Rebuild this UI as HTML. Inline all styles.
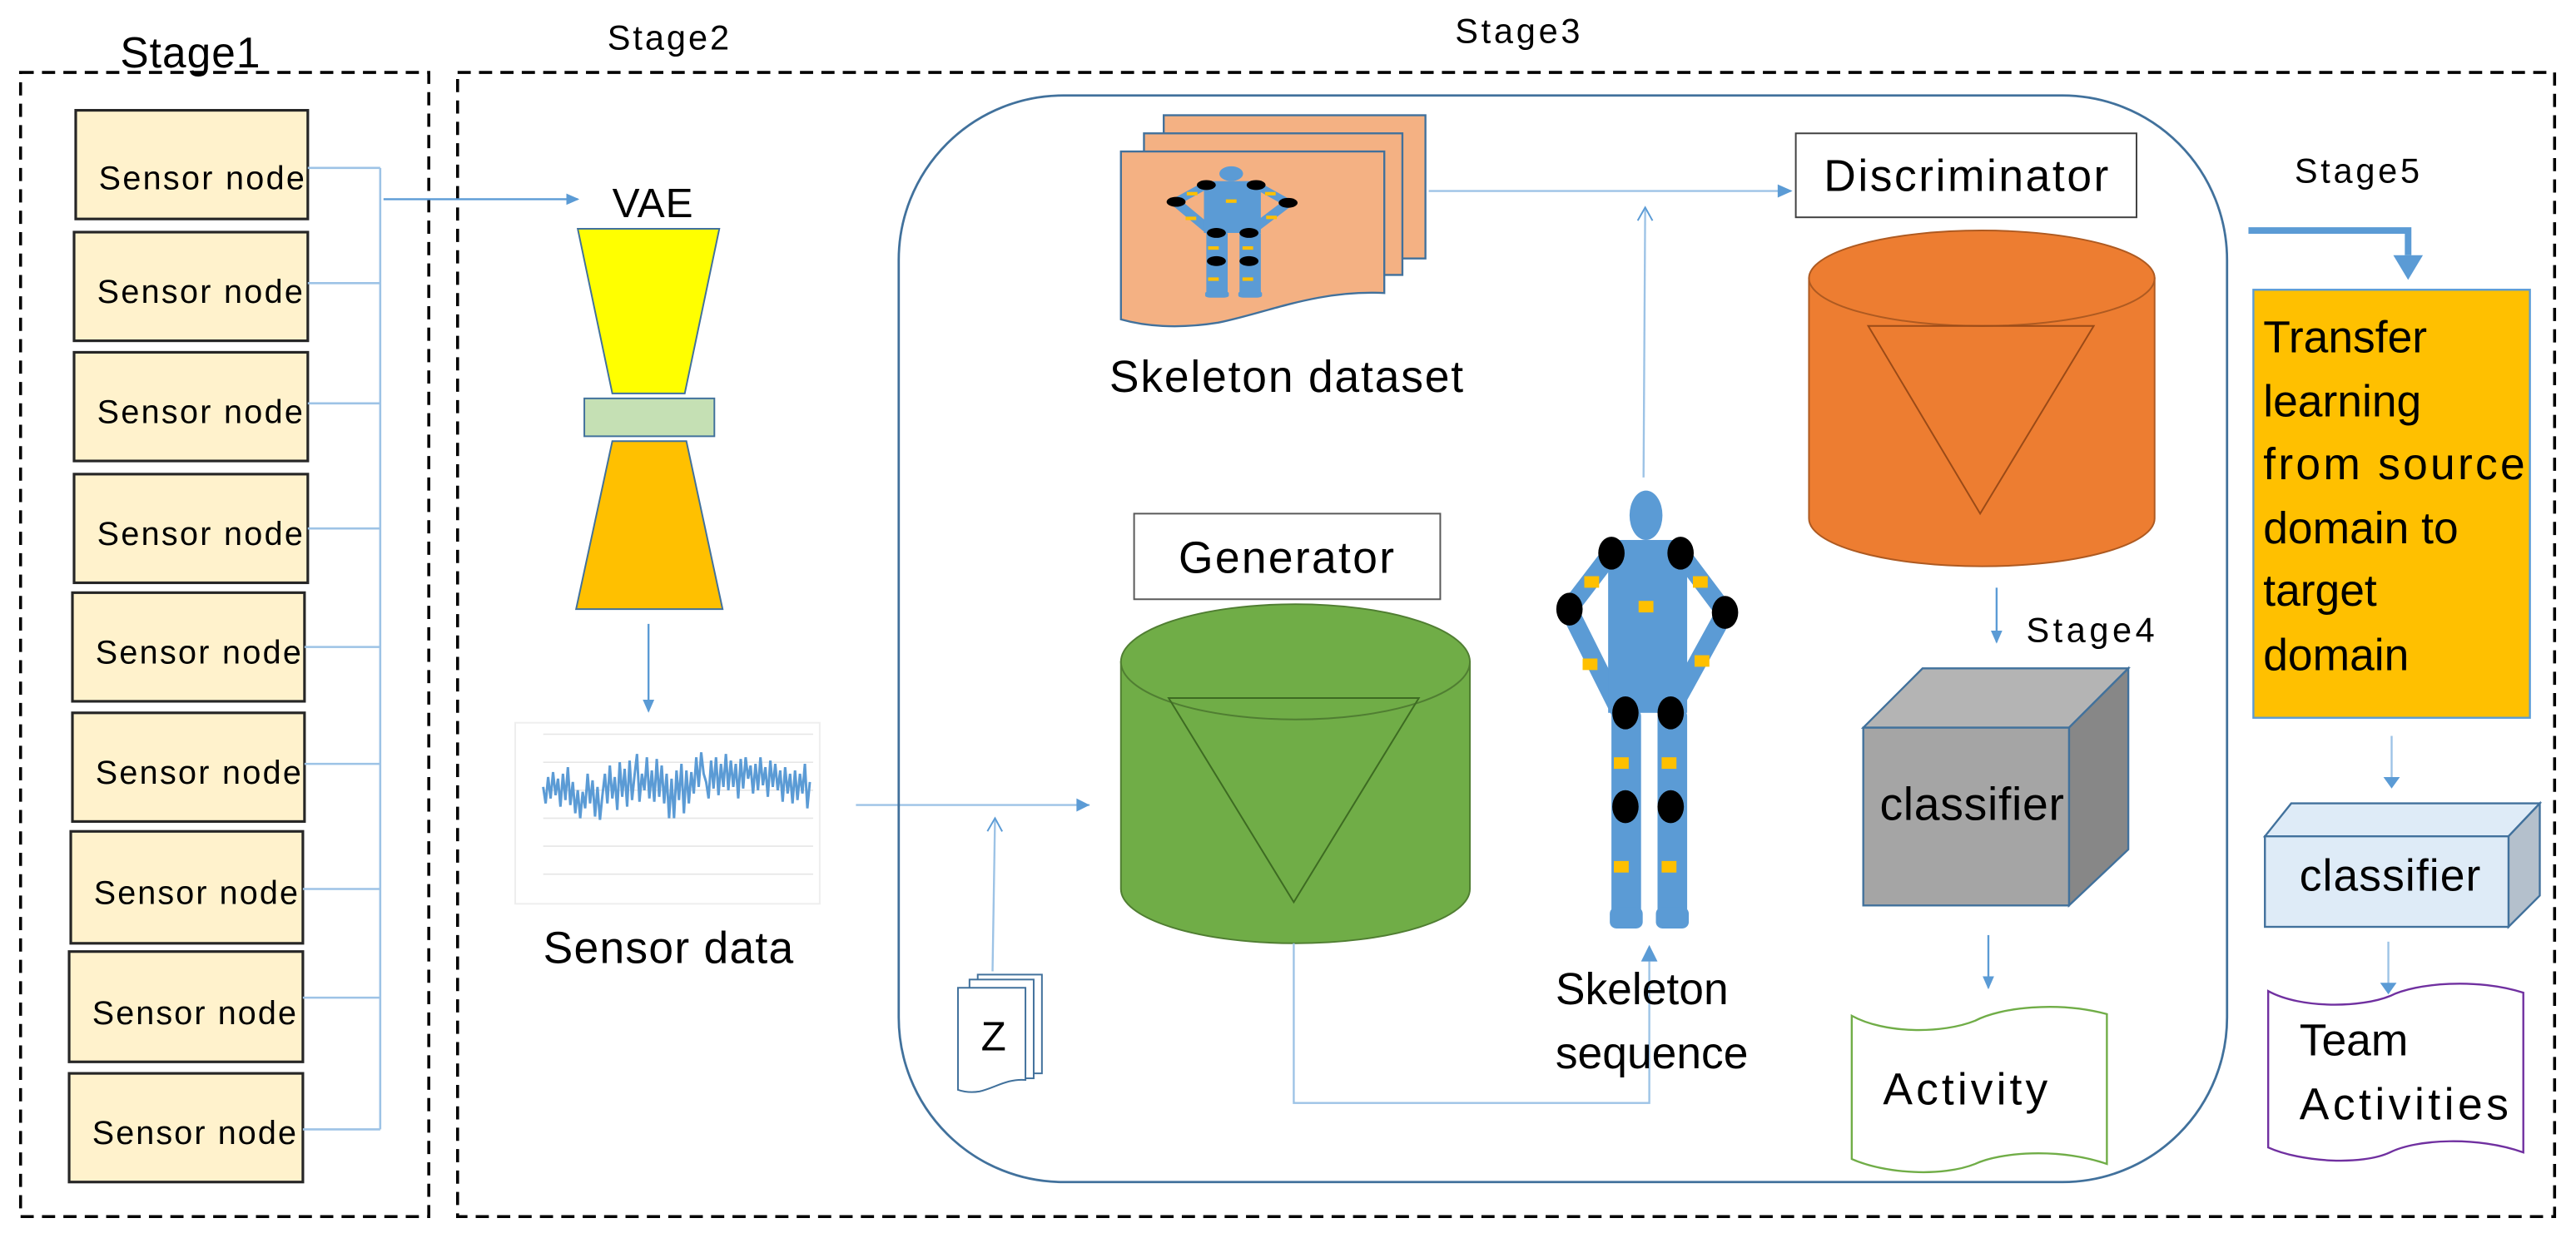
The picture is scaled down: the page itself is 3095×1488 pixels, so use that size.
<!DOCTYPE html>
<html><head><meta charset="utf-8"><style>
html,body{margin:0;padding:0;background:#fff}
svg{display:block}
text{font-family:"Liberation Sans",sans-serif;fill:#000}
</style></head><body>
<svg width="3095" height="1488" viewBox="0 0 1565 752" preserveAspectRatio="none" xmlns="http://www.w3.org/2000/svg">
<defs>
<marker id="ah" markerWidth="8" markerHeight="8" refX="7" refY="4" orient="auto" markerUnits="userSpaceOnUse"><path d="M0,0.5 L8,4 L0,7.5 z" fill="#5B9BD5"/></marker>
<marker id="ao" markerWidth="10" markerHeight="10" refX="9" refY="5" orient="auto" markerUnits="userSpaceOnUse"><path d="M1,0.5 L9,5 L1,9.5" fill="none" stroke="#5B9BD5" stroke-width="1"/></marker>
<g id="fig">
  <g stroke="#5B9BD5" stroke-width="11" stroke-linecap="round" fill="none">
    <polyline points="979,336 953,370 984,432"/>
    <polyline points="1021,336 1048,372 1015,432"/>
  </g>
  <ellipse cx="1000" cy="313" rx="10" ry="15" fill="#5B9BD5"/>
  <rect x="977" y="328" width="48" height="105" fill="#5B9BD5"/>
  <rect x="979" y="430" width="18" height="128" rx="5" fill="#5B9BD5"/>
  <rect x="1007" y="430" width="18" height="128" rx="5" fill="#5B9BD5"/>
  <rect x="978" y="551" width="20" height="13" rx="4" fill="#5B9BD5"/>
  <rect x="1006" y="551" width="20" height="13" rx="4" fill="#5B9BD5"/>
  <g fill="#000">
    <ellipse cx="979" cy="336" rx="8" ry="10"/><ellipse cx="1021" cy="336" rx="8" ry="10"/>
    <ellipse cx="953.5" cy="370" rx="8" ry="10"/><ellipse cx="1048" cy="372" rx="8" ry="10"/>
    <ellipse cx="987.5" cy="433" rx="8" ry="10"/><ellipse cx="1015" cy="433" rx="8" ry="10"/>
    <ellipse cx="987.5" cy="490" rx="8" ry="10"/><ellipse cx="1015" cy="490" rx="8" ry="10"/>
  </g>
  <g fill="#FFC000">
    <rect x="962.5" y="350" width="9" height="7"/><rect x="1028.5" y="350" width="9" height="7"/>
    <rect x="995.5" y="365" width="9" height="7"/>
    <rect x="961.5" y="400" width="9" height="7"/><rect x="1029.5" y="398" width="9" height="7"/>
    <rect x="980.5" y="460" width="9" height="7"/><rect x="1009.5" y="460" width="9" height="7"/>
    <rect x="980.5" y="523" width="9" height="7"/><rect x="1009.5" y="523" width="9" height="7"/>
  </g>
</g>
</defs>

<rect x="12.5" y="44" width="248" height="695" fill="none" stroke="#000" stroke-width="1.8" stroke-dasharray="8,5"/>
<rect x="278" y="44" width="1274" height="695" fill="none" stroke="#000" stroke-width="1.8" stroke-dasharray="8,5"/>
<text x="73" y="41" font-size="26" textLength="85">Stage1</text>
<text x="369" y="30" font-size="21" textLength="74">Stage2</text>
<text x="884" y="26" font-size="21" textLength="76">Stage3</text>

<g fill="#FFF2CC" stroke="#262626" stroke-width="1.6">
<rect x="46" y="67" width="141" height="66"/>
<rect x="45" y="141" width="142" height="66"/>
<rect x="45" y="214" width="142" height="66"/>
<rect x="45" y="288" width="142" height="66"/>
<rect x="44" y="360" width="141" height="66"/>
<rect x="44" y="433" width="141" height="66"/>
<rect x="43" y="505" width="141" height="68"/>
<rect x="42" y="578" width="142" height="67"/>
<rect x="42" y="652" width="142" height="66"/>
</g>
<g font-size="20">
<text x="60" y="115" textLength="125">Sensor node</text>
<text x="59" y="184" textLength="125">Sensor node</text>
<text x="59" y="257" textLength="125">Sensor node</text>
<text x="59" y="331" textLength="125">Sensor node</text>
<text x="58" y="403" textLength="125">Sensor node</text>
<text x="58" y="476" textLength="125">Sensor node</text>
<text x="57" y="549" textLength="124">Sensor node</text>
<text x="56" y="622" textLength="124">Sensor node</text>
<text x="56" y="695" textLength="124">Sensor node</text>
</g>
<g stroke="#9DC3E6" stroke-width="1.3" fill="none">
<line x1="231" y1="102" x2="231" y2="686"/>
<line x1="187" y1="102" x2="231" y2="102"/>
<line x1="187" y1="172" x2="231" y2="172"/>
<line x1="187" y1="245" x2="231" y2="245"/>
<line x1="187" y1="321" x2="231" y2="321"/>
<line x1="185" y1="393" x2="231" y2="393"/>
<line x1="185" y1="464" x2="231" y2="464"/>
<line x1="184" y1="540" x2="231" y2="540"/>
<line x1="184" y1="606" x2="231" y2="606"/>
<line x1="184" y1="686" x2="231" y2="686"/>
</g>
<line x1="233" y1="121" x2="351" y2="121" stroke="#5B9BD5" stroke-width="1.2" marker-end="url(#ah)"/>

<text x="372" y="132" font-size="25" textLength="49">VAE</text>
<polygon points="351,139 437,139 416,239 372,239" fill="#FFFF00" stroke="#41719C" stroke-width="1"/>
<rect x="355" y="242" width="79" height="23" fill="#C5E0B4" stroke="#41719C" stroke-width="1"/>
<polygon points="372,268 417,268 439,370 350,370" fill="#FFC000" stroke="#41719C" stroke-width="1"/>
<line x1="394" y1="379" x2="394" y2="432" stroke="#5B9BD5" stroke-width="1.2" marker-end="url(#ah)"/>

<rect x="313" y="439" width="185" height="110" fill="#fff" stroke="#eee" stroke-width="1"/>
<g stroke="#e6e6e6" stroke-width="0.8">
<line x1="330" y1="446" x2="494" y2="446"/><line x1="330" y1="463" x2="494" y2="463"/>
<line x1="330" y1="480" x2="494" y2="480"/><line x1="330" y1="497" x2="494" y2="497"/>
<line x1="330" y1="514" x2="494" y2="514"/><line x1="330" y1="531" x2="494" y2="531"/>
</g>
<polyline fill="none" stroke="#5B9BD5" stroke-width="1.5" points="330,478 331.5,488 333,472 334.5,485 336,469 337.5,483 339,473 340.5,490 342,470 343.5,486 345,466 346.5,489 348,475 349.5,494 351,480 352.5,497 354,481 355.5,491 357,470 358.5,488 360,474 361.5,496 363,478 364.5,498 366,483 367.5,470 369,488 370.5,465 372,485 373.5,472 375,492 376.5,463 378,484 379.5,467 381,490 382.5,462 384,486 385.5,471 387,458 388.5,487 390,470 391.5,480 393,460 394.5,485 396,468 397.5,487 399,461 400.5,484 402,465 403.5,488 405,470 406.5,497 408,473 409.5,497 411,468 412.5,486 414,464 415.5,494 417,468 418.5,488 420,469 421.5,482 423,460 424.5,478 426,457 427.5,470 429,475 430.5,485 432,462 433.5,479 435,460 436.5,483 438,464 439.5,478 441,458 442.5,480 444,462 445.5,478 447,464 448.5,485 450,461 451.5,479 453,460 454.5,473 456,465 457.5,482 459,464 460.5,480 462,460 463.5,477 465,466 466.5,484 468,462 469.5,478 471,464 472.5,480 474,468 475.5,487 477,466 478.5,482 480,470 481.5,488 483,468 484.5,486 486,470 487.5,482 489,464 490.5,491 492,475"/>
<text x="330" y="585" font-size="27" textLength="152">Sensor data</text>
<line x1="520" y1="489" x2="662" y2="489" stroke="#9DC3E6" stroke-width="1.2"/>
<path d="M654,485 L662,489 L654,493 z" fill="#5B9BD5"/>

<rect x="546" y="58" width="807" height="660" rx="100" ry="100" fill="none" stroke="#41719C" stroke-width="1.4"/>

<g stroke="#41719C" stroke-width="1.2" fill="#F4B183">
<rect x="707" y="70" width="159" height="87"/>
<rect x="695" y="81" width="157" height="86"/>
<path d="M681,92 L841,92 L841,178 C800,176 770,190 740,196 C715,200 695,198 681,194 z"/>
</g>
<use href="#fig" transform="translate(748,101) scale(0.72,0.3) translate(-1000,-298)"/>
<text x="674" y="238" font-size="27" textLength="215">Skeleton dataset</text>
<line x1="868" y1="116" x2="1088" y2="116" stroke="#9DC3E6" stroke-width="1.2"/>
<path d="M1080,112 L1089,116 L1080,120 z" fill="#5B9BD5"/>
<line x1="998.5" y1="290" x2="999.5" y2="126" stroke="#9DC3E6" stroke-width="1.2" marker-end="url(#ao)"/>

<rect x="689" y="312" width="186" height="52" fill="#fff" stroke="#595959" stroke-width="1"/>
<text x="716" y="348" font-size="27" textLength="131">Generator</text>
<path d="M681,402 L681,540 A106,33 0 0 0 893,540 L893,402 z" fill="#70AD47" stroke="#507E32" stroke-width="1"/>
<ellipse cx="787" cy="402" rx="106" ry="35" fill="#70AD47" stroke="#507E32" stroke-width="1"/>
<polygon points="710,424 862,424 786,548" fill="none" stroke="#3d6b22" stroke-width="1"/>

<g stroke="#41719C" stroke-width="1" fill="#fff">
<rect x="594" y="592" width="39" height="60"/>
<rect x="589" y="595" width="39" height="60"/>
<path d="M582,600 L623,600 L623,656 C612,655 604,661 595,663 C589,664 585,663 582,662 z"/>
</g>
<text x="596" y="638" font-size="25">Z</text>
<line x1="603" y1="590" x2="604.5" y2="497" stroke="#9DC3E6" stroke-width="1.2" marker-end="url(#ao)"/>

<polyline points="786,573 786,670 1002,670 1002,584" fill="none" stroke="#9DC3E6" stroke-width="1.2"/>
<path d="M997,584 L1002,574 L1007,584 z" fill="#5B9BD5"/>

<use href="#fig"/>
<text x="945" y="610" font-size="27">Skeleton</text>
<text x="945" y="649" font-size="27">sequence</text>

<rect x="1091" y="81" width="207" height="51" fill="#fff" stroke="#404040" stroke-width="1"/>
<text x="1108" y="116" font-size="27" textLength="173">Discriminator</text>
<path d="M1099,169 L1099,315 A105,29 0 0 0 1309,315 L1309,169 z" fill="#ED7D31" stroke="#AE5A21" stroke-width="1"/>
<ellipse cx="1204" cy="169" rx="105" ry="29" fill="#ED7D31" stroke="#AE5A21" stroke-width="1"/>
<polygon points="1135,198 1272,198 1203,312" fill="none" stroke="#9a4a17" stroke-width="1"/>
<line x1="1213" y1="357" x2="1213" y2="390" stroke="#5B9BD5" stroke-width="1.2" marker-end="url(#ah)"/>
<text x="1231" y="390" font-size="21" textLength="78">Stage4</text>

<polygon points="1132,442 1168,406 1293,406 1257,442" fill="#B4B4B4" stroke="#41719C" stroke-width="1.2"/>
<polygon points="1257,442 1293,406 1293,516 1257,550" fill="#878787" stroke="#41719C" stroke-width="1.2"/>
<rect x="1132" y="442" width="125" height="108" fill="#A5A5A5" stroke="#41719C" stroke-width="1.2"/>
<text x="1142" y="498" font-size="28" textLength="112">classifier</text>
<line x1="1208" y1="568" x2="1208" y2="600" stroke="#5B9BD5" stroke-width="1.2" marker-end="url(#ah)"/>

<path d="M1125,617 C1145,628 1180,628 1200,620 C1215,612 1250,608 1280,616 L1280,707 C1250,697 1215,700 1200,707 C1180,715 1145,713 1125,704 z" fill="#fff" stroke="#70AD47" stroke-width="1.2"/>
<text x="1144" y="671" font-size="27" textLength="100">Activity</text>

<text x="1394" y="111" font-size="21" textLength="76">Stage5</text>
<polyline points="1366,140 1463,140 1463,155" fill="none" stroke="#5B9BD5" stroke-width="4"/>
<path d="M1454,155 L1472,155 L1463,170 z" fill="#5B9BD5"/>
<rect x="1369" y="176" width="168" height="260" fill="#FFC000" stroke="#5B9BD5" stroke-width="1.2"/>
<g font-size="27">
<text x="1375" y="214">Transfer</text>
<text x="1375" y="253">learning</text>
<text x="1375" y="291" textLength="159">from source</text>
<text x="1375" y="330">domain to</text>
<text x="1375" y="368">target</text>
<text x="1375" y="407">domain</text>
</g>
<line x1="1453" y1="447" x2="1453" y2="478" stroke="#9DC3E6" stroke-width="1.2"/>
<path d="M1448,472 L1453,479 L1458,472 z" fill="#5B9BD5"/>

<polygon points="1376,508 1392,488 1543,488 1524,508" fill="#DEEBF7" stroke="#41719C" stroke-width="1.2"/>
<polygon points="1524,508 1543,488 1543,544 1524,563" fill="#B4C0CC" stroke="#41719C" stroke-width="1.2"/>
<rect x="1376" y="508" width="148" height="55" fill="#DEEBF7" stroke="#41719C" stroke-width="1.2"/>
<text x="1397" y="541" font-size="27" textLength="110">classifier</text>
<line x1="1451" y1="572" x2="1451" y2="603" stroke="#9DC3E6" stroke-width="1.2"/>
<path d="M1446,597 L1451,604 L1456,597 z" fill="#5B9BD5"/>

<path d="M1378,602 C1398,613 1435,612 1452,605 C1468,597 1505,594 1533,603 L1533,700 C1505,690 1468,692 1452,700 C1435,708 1398,706 1378,697 z" fill="#fff" stroke="#7030A0" stroke-width="1.2"/>
<text x="1397" y="641" font-size="27">Team</text>
<text x="1397" y="680" font-size="27" textLength="127">Activities</text>
</svg>
</body></html>
